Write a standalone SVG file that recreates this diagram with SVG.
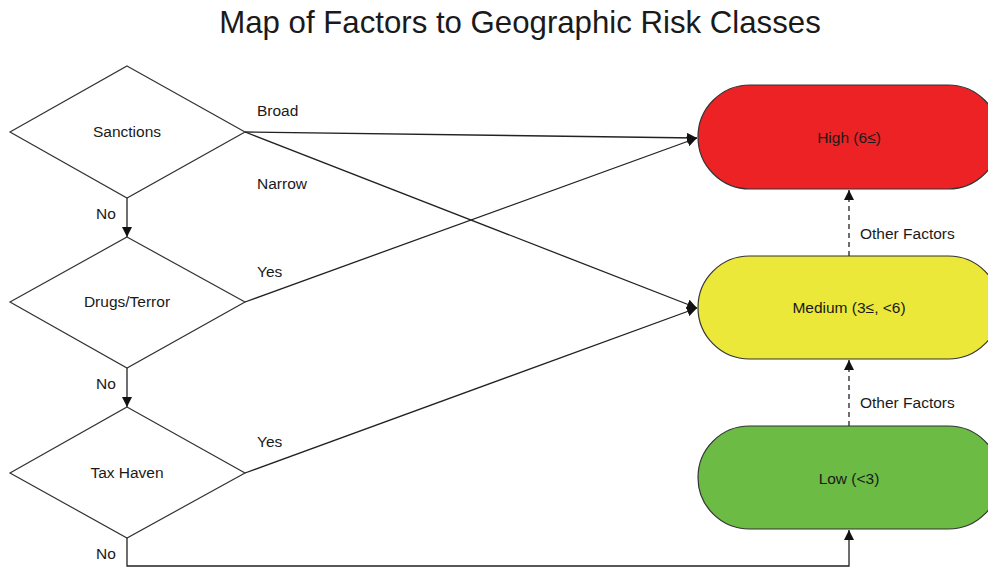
<svg xmlns="http://www.w3.org/2000/svg" width="988" height="567" viewBox="0 0 988 567">
<style>
text{font-family:"Liberation Sans",Arial,sans-serif;fill:#1a1a1a}
.t{font-size:15.5px}
.c{text-anchor:middle}
.d{fill:#fff;stroke:#333;stroke-width:1.2}
.p{stroke:#333;stroke-width:1.2}
.e{fill:none;stroke:#222;stroke-width:1.3}
.dash{stroke-dasharray:5 4}
</style>
<defs>
<marker id="ah" viewBox="0 0 10 10" refX="10" refY="5" markerWidth="10" markerHeight="10" markerUnits="userSpaceOnUse" orient="auto">
<path d="M0,0 L10,5 L0,10 z" fill="#111"/>
</marker>
</defs>
<rect width="988" height="567" fill="#fff"/>
<text x="520" y="33" class="c" style="font-size:31.2px">Map of Factors to Geographic Risk Classes</text>

<g id="connectors">
<line class="e" x1="127" y1="198" x2="127" y2="237" marker-end="url(#ah)"/>
<line class="e" x1="127" y1="368" x2="127" y2="407" marker-end="url(#ah)"/>
<polyline class="e" points="127,538 127,566 849,566 849,530" marker-end="url(#ah)"/>
<line class="e" x1="245" y1="132" x2="697" y2="138" marker-end="url(#ah)"/>
<line class="e" x1="245" y1="132" x2="697" y2="308" marker-end="url(#ah)"/>
<line class="e" x1="245" y1="302" x2="697" y2="138" marker-end="url(#ah)"/>
<line class="e" x1="245" y1="473" x2="697" y2="308" marker-end="url(#ah)"/>
<line class="e dash" x1="849" y1="256" x2="849" y2="190" marker-end="url(#ah)"/>
<line class="e dash" x1="849" y1="426" x2="849" y2="360" marker-end="url(#ah)"/>
<text x="96" y="219" class="t">No</text>
<text x="96" y="389" class="t">No</text>
<text x="96" y="559" class="t">No</text>
<text x="257" y="116" class="t">Broad</text>
<text x="257" y="189" class="t">Narrow</text>
<text x="257" y="277" class="t">Yes</text>
<text x="257" y="447" class="t">Yes</text>
<text x="860" y="239" class="t">Other Factors</text>
<text x="860" y="408" class="t">Other Factors</text>
</g>

<g id="sanctions">
<polygon class="d" points="127,66 245,132 127,198 10,132"/>
<text x="127" y="137" class="t c">Sanctions</text>
</g>
<g id="drugs">
<polygon class="d" points="127,237 245,302 127,368 10,302"/>
<text x="127" y="307" class="t c">Drugs/Terror</text>
</g>
<g id="taxhaven">
<polygon class="d" points="127,407 245,473 127,538 10,473"/>
<text x="127" y="478" class="t c">Tax Haven</text>
</g>

<g id="high">
<rect class="p" x="698" y="85" width="302" height="104" rx="52" ry="52" fill="#ED2224"/>
<text x="849" y="143" class="t c">High (6≤)</text>
</g>
<g id="medium">
<rect class="p" x="698" y="256" width="302" height="103" rx="51.5" ry="51.5" fill="#EBE83A"/>
<text x="849" y="313" class="t c">Medium (3≤, &lt;6)</text>
</g>
<g id="low">
<rect class="p" x="698" y="426" width="302" height="103" rx="51.5" ry="51.5" fill="#6BBB44"/>
<text x="849" y="484" class="t c">Low (&lt;3)</text>
</g>
</svg>
